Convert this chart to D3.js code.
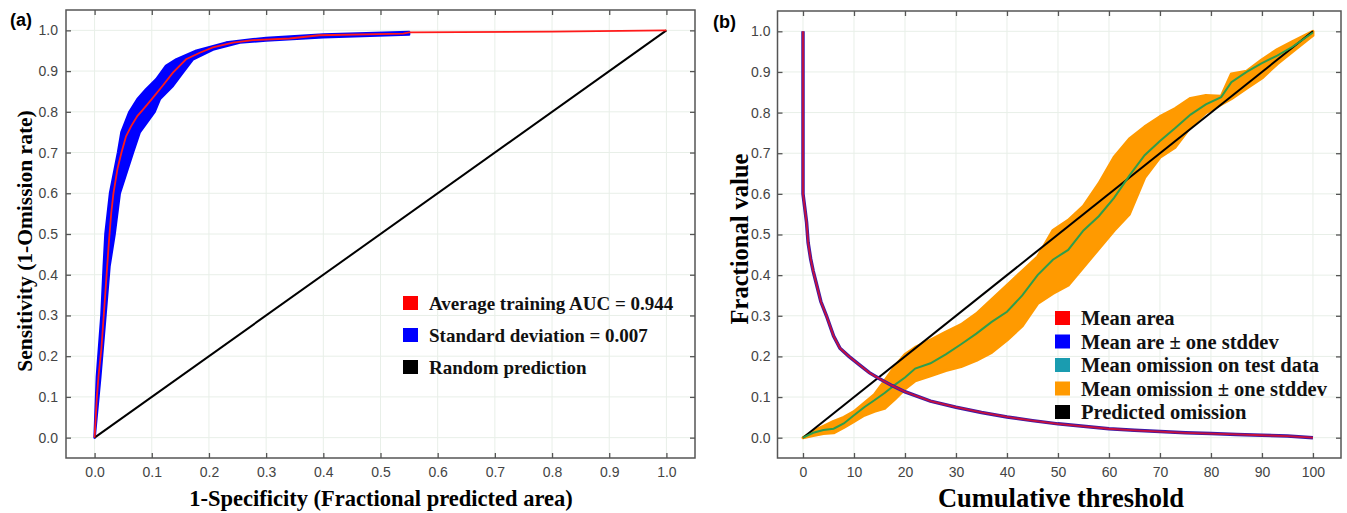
<!DOCTYPE html>
<html>
<head>
<meta charset="utf-8">
<script src="https://cdn.jsdelivr.net/npm/d3@7"></script>
<style>
  body { margin: 0; background: #fff; }
  svg { display: block; }
</style>
</head>
<body>
<div id="chart"></div>
<script>
// ---- panel (a) data: ROC curve ----
const rocFpr = [0, 0.004, 0.007, 0.012, 0.016, 0.021, 0.025, 0.029, 0.033, 0.04, 0.047, 0.055, 0.064, 0.075, 0.085, 0.1, 0.119, 0.137, 0.16, 0.184, 0.207, 0.242, 0.277, 0.341, 0.393, 0.54, 0.55, 0.8, 1];
const rocTpr = [0, 0.1, 0.153, 0.22, 0.30, 0.40, 0.48, 0.55, 0.60, 0.66, 0.70, 0.74, 0.765, 0.79, 0.806, 0.831, 0.864, 0.896, 0.929, 0.945, 0.958, 0.970, 0.976, 0.980, 0.988, 0.992, 0.995, 0.997, 1];
// upper / lower edges of the standard deviation band
const sdUpperFpr = [0, 0.004, 0.012, 0.016, 0.019, 0.027, 0.041, 0.047, 0.061, 0.075, 0.09, 0.108, 0.125, 0.143, 0.178, 0.23, 0.277, 0.3, 0.4, 0.55];
const sdUpperTpr = [0, 0.15, 0.30, 0.42, 0.50, 0.60, 0.70, 0.75, 0.80, 0.831, 0.855, 0.88, 0.913, 0.929, 0.95, 0.97, 0.978, 0.981, 0.99, 0.996];
const sdLowerFpr = [0, 0.01, 0.019, 0.026, 0.035, 0.044, 0.067, 0.079, 0.105, 0.114, 0.137, 0.154, 0.172, 0.207, 0.254, 0.3, 0.4, 0.55];
const sdLowerTpr = [0, 0.15, 0.30, 0.42, 0.50, 0.60, 0.70, 0.75, 0.80, 0.831, 0.864, 0.896, 0.929, 0.953, 0.97, 0.975, 0.983, 0.99];
const randomPred = [[0, 0], [1, 1]];
const legendA = ["Average training AUC = 0.944", "Standard deviation = 0.007", "Random prediction"];
const legendAColors = ["#ff0000", "#0000ff", "#000000"];
const ticksA = [0, 0.1, 0.2, 0.3, 0.4, 0.5, 0.6, 0.7, 0.8, 0.9, 1.0];

// ---- panel (b) data: omission and predicted area ----
const areaThr = [0, 0, 0.3, 0.7, 1.0, 1.5, 2, 2.6, 3.5, 4.6, 6, 7.25, 9, 11.2, 13, 15, 17.5, 20, 25, 30, 35, 40, 45, 50, 55, 60, 65, 70, 75, 80, 85, 90, 95, 100];
const areaMean = [1.0, 0.6, 0.57, 0.53, 0.48, 0.44, 0.41, 0.38, 0.335, 0.30, 0.25, 0.22, 0.20, 0.178, 0.16, 0.145, 0.128, 0.113, 0.09, 0.075, 0.062, 0.051, 0.042, 0.034, 0.028, 0.022, 0.018, 0.015, 0.012, 0.01, 0.008, 0.006, 0.004, 0.0];
const omThr = [0, 2, 4, 6, 8, 10, 12, 14, 16, 18, 20, 22, 25, 28, 31, 34, 37, 40, 43, 46, 49, 52, 55, 58, 61, 64, 67, 70, 73, 76, 79, 82, 84, 87, 90, 93, 96, 100];
const omMean = [0, 0.012, 0.019, 0.022, 0.035, 0.055, 0.075, 0.092, 0.11, 0.13, 0.148, 0.17, 0.183, 0.205, 0.23, 0.256, 0.285, 0.31, 0.35, 0.40, 0.438, 0.462, 0.51, 0.545, 0.59, 0.645, 0.695, 0.73, 0.762, 0.795, 0.82, 0.838, 0.875, 0.9, 0.922, 0.94, 0.962, 0.997];
const omUpper = [0, 0.016, 0.028, 0.04, 0.05, 0.064, 0.085, 0.106, 0.14, 0.175, 0.205, 0.222, 0.24, 0.26, 0.278, 0.305, 0.34, 0.375, 0.41, 0.445, 0.51, 0.535, 0.57, 0.625, 0.69, 0.735, 0.765, 0.79, 0.81, 0.835, 0.842, 0.84, 0.895, 0.902, 0.93, 0.955, 0.975, 1.0];
const omLower = [0, 0.005, 0.01, 0.012, 0.025, 0.04, 0.055, 0.065, 0.072, 0.095, 0.12, 0.14, 0.152, 0.165, 0.175, 0.19, 0.21, 0.24, 0.275, 0.33, 0.355, 0.375, 0.42, 0.465, 0.51, 0.55, 0.64, 0.69, 0.715, 0.765, 0.8, 0.82, 0.834, 0.86, 0.885, 0.92, 0.95, 0.99];
const predictedOm = [[0, 0], [100, 1]];
const legendB = ["Mean area", "Mean are \u00b1 one stddev", "Mean omission on test data", "Mean omission \u00b1 one stddev", "Predicted omission"];
const legendBColors = ["#ff0000", "#0000ff", "#1a9cb0", "#ff9a00", "#000000"];
const ticksBx = [0, 10, 20, 30, 40, 50, 60, 70, 80, 90, 100];
const ticksBy = [0, 0.1, 0.2, 0.3, 0.4, 0.5, 0.6, 0.7, 0.8, 0.9, 1.0];

const width = 1347, height = 513;
const svg = d3.select("#chart").append("svg")
    .attr("width", width)
    .attr("height", height)
    .attr("viewBox", [0, 0, width, height]);

const serif = "'Liberation Serif', 'Times New Roman', serif";
const sans = "'Liberation Sans', Arial, sans-serif";

function drawFrame(x, y, xTicks, yTicks, xFmt, yFmt, yPad) {
    const [x0, x1] = x.range();
    const [y0, y1] = y.range();
    // faint grid
    const grid = svg.append("g").attr("stroke", "#e8efe8").attr("stroke-width", 1);
    grid.selectAll(".gx").data(xTicks).join("line")
        .attr("x1", d => x(d)).attr("x2", d => x(d)).attr("y1", y1).attr("y2", y0);
    grid.selectAll(".gy").data(yTicks).join("line")
        .attr("y1", d => y(d)).attr("y2", d => y(d)).attr("x1", x0).attr("x2", x1);

    const axisStyle = g => {
        g.select(".domain").remove();
        g.selectAll(".tick line").attr("stroke", "#555").attr("stroke-width", 1.3);
        g.selectAll(".tick text").attr("fill", "#444").attr("font-family", sans).attr("font-size", 14);
    };
    svg.append("g").attr("transform", `translate(0,${y0})`)
        .call(d3.axisBottom(x).tickValues(xTicks).tickFormat(xFmt).tickSizeInner(-5).tickPadding(9))
        .call(axisStyle);
    svg.append("g").attr("transform", `translate(${x0},0)`)
        .call(d3.axisLeft(y).tickValues(yTicks).tickFormat(yFmt).tickSizeInner(-5).tickPadding(yPad))
        .call(axisStyle);
    svg.append("g").attr("transform", `translate(0,${y1})`)
        .call(d3.axisTop(x).tickValues(xTicks).tickFormat("").tickSizeInner(-5))
        .call(axisStyle);
    svg.append("g").attr("transform", `translate(${x1},0)`)
        .call(d3.axisRight(y).tickValues(yTicks).tickFormat("").tickSizeInner(-5))
        .call(axisStyle);
}

function drawBorder(x, y) {
    const [x0, x1] = x.range();
    const [y0, y1] = y.range();
    svg.append("rect")
        .attr("x", x0).attr("y", y1)
        .attr("width", x1 - x0).attr("height", y0 - y1)
        .attr("fill", "none").attr("stroke", "#555").attr("stroke-width", 1.5);
}

function drawLegend(labels, colors, lx, ly, step, fontSize) {
    const lg = svg.append("g")
        .selectAll("g").data(labels).join("g")
        .attr("transform", (d, i) => `translate(${lx},${ly + i * step})`);
    lg.append("rect")
        .attr("x", 0).attr("y", -7).attr("width", 15).attr("height", 14)
        .attr("fill", (d, i) => colors[i]);
    lg.append("text")
        .attr("x", 26).attr("y", 0).attr("dy", "0.35em")
        .attr("font-family", serif).attr("font-weight", "bold").attr("font-size", fontSize)
        .attr("fill", "#111")
        .text(d => d);
}

// ================= panel (a) =================
const xa = d3.scaleLinear().domain([-0.05, 1.05]).range([66, 695]);
const ya = d3.scaleLinear().domain([-0.05, 1.05]).range([458, 10]);
const fmt1 = d3.format(".1f");
drawFrame(xa, ya, ticksA, ticksA, fmt1, fmt1, 8);

const lineA = d3.line().x(d => xa(d[0])).y(d => ya(d[1]));
const sdPoly = sdUpperFpr.map((f, i) => [f, sdUpperTpr[i]])
    .concat(sdLowerFpr.map((f, i) => [f, sdLowerTpr[i]]).reverse());
svg.append("path")
    .attr("d", lineA(sdPoly) + "Z")
    .attr("fill", "#0000ff")
    .attr("stroke", "#0000ff")
    .attr("stroke-width", 2.5)
    .attr("stroke-linejoin", "round");
svg.append("path")
    .attr("d", lineA(randomPred))
    .attr("fill", "none").attr("stroke", "#000").attr("stroke-width", 2);
svg.append("path")
    .attr("d", lineA(rocFpr.map((f, i) => [f, rocTpr[i]])))
    .attr("fill", "none").attr("stroke", "#ff1a1a").attr("stroke-width", 1.8);
drawBorder(xa, ya);

drawLegend(legendA, legendAColors, 403, 303, 32, 19);

svg.append("text")
    .attr("x", 10).attr("y", 26)
    .attr("font-family", sans).attr("font-weight", "bold").attr("font-size", 18)
    .text("(a)");
svg.append("text")
    .attr("x", 381).attr("y", 506)
    .attr("text-anchor", "middle")
    .attr("font-family", serif).attr("font-weight", "bold").attr("font-size", 22.5)
    .text("1-Specificity (Fractional predicted area)");
svg.append("text")
    .attr("transform", "translate(32,241) rotate(-90)")
    .attr("text-anchor", "middle")
    .attr("font-family", serif).attr("font-weight", "bold").attr("font-size", 21.5)
    .text("Sensitivity (1-Omission rate)");

// ================= panel (b) =================
const xb = d3.scaleLinear().domain([-5, 105.5]).range([777.5, 1341]);
const yb = d3.scaleLinear().domain([-0.05, 1.05]).range([458, 11]);
drawFrame(xb, yb, ticksBx, ticksBy, d3.format("d"), fmt1, 7);

const lineB = d3.line().x(d => xb(d[0])).y(d => yb(d[1]));
const bandB = d3.area()
    .x((d, i) => xb(omThr[i]))
    .y0((d, i) => yb(omLower[i]))
    .y1((d, i) => yb(omUpper[i]));
svg.append("path")
    .attr("d", bandB(omThr))
    .attr("fill", "#ff9a00")
    .attr("stroke", "#ff9a00")
    .attr("stroke-width", 3)
    .attr("stroke-linejoin", "round");
svg.append("path")
    .attr("d", lineB(predictedOm))
    .attr("fill", "none").attr("stroke", "#000").attr("stroke-width", 2);
svg.append("path")
    .attr("d", lineB(omThr.map((t, i) => [t, omMean[i]])))
    .attr("fill", "none").attr("stroke", "#2e9e4c").attr("stroke-width", 2);
const areaPts = areaThr.map((t, i) => [t, areaMean[i]]);
svg.append("path")
    .attr("d", lineB(areaPts))
    .attr("fill", "none").attr("stroke", "#3a1aa8").attr("stroke-width", 3.5);
svg.append("path")
    .attr("d", lineB(areaPts))
    .attr("fill", "none").attr("stroke", "#c8103c").attr("stroke-width", 1.8);
drawBorder(xb, yb);

drawLegend(legendB, legendBColors, 1055, 318, 23.5, 20.5);

svg.append("text")
    .attr("x", 713).attr("y", 28)
    .attr("font-family", sans).attr("font-weight", "bold").attr("font-size", 18)
    .text("(b)");
svg.append("text")
    .attr("x", 1061).attr("y", 507)
    .attr("text-anchor", "middle")
    .attr("font-family", serif).attr("font-weight", "bold").attr("font-size", 26.5)
    .text("Cumulative threshold");
svg.append("text")
    .attr("transform", "translate(748,239) rotate(-90)")
    .attr("text-anchor", "middle")
    .attr("font-family", serif).attr("font-weight", "bold").attr("font-size", 24.5)
    .text("Fractional value");
</script>
</body>
</html>
